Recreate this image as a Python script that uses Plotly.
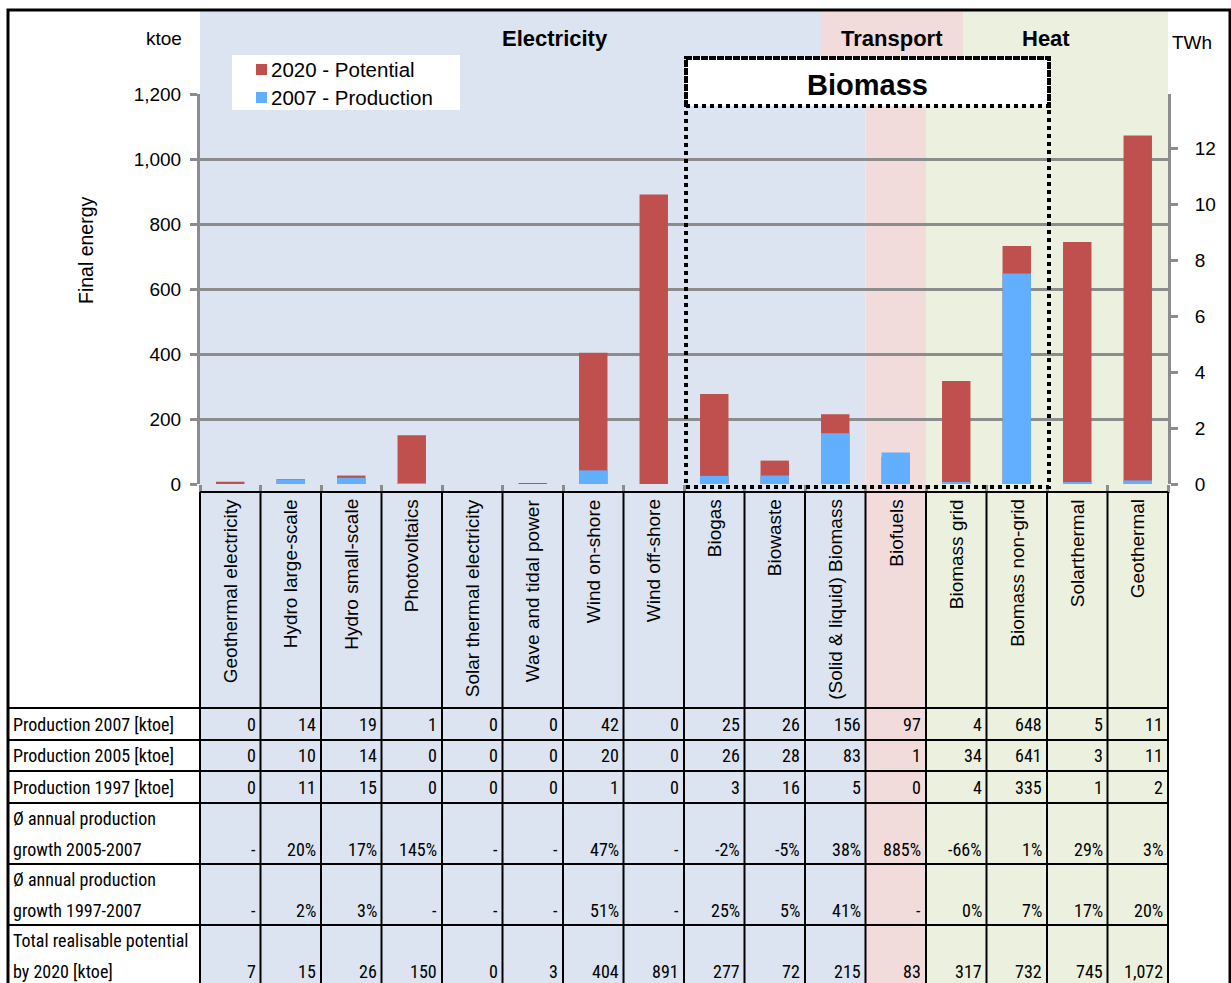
import plotly.graph_objects as go

# ---- data -------------------------------------------------------------
categories = [
    "Geothermal electricity", "Hydro large-scale", "Hydro small-scale",
    "Photovoltaics", "Solar thermal electricity", "Wave and tidal power",
    "Wind on-shore", "Wind off-shore", "Biogas", "Biowaste",
    "(Solid & liquid) Biomass", "Biofuels", "Biomass grid",
    "Biomass non-grid", "Solarthermal", "Geothermal",
]
sectors = ["Electricity"] * 11 + ["Transport"] + ["Heat"] * 4

prod_2007 = [0, 14, 19, 1, 0, 0, 42, 0, 25, 26, 156, 97, 4, 648, 5, 11]
prod_2005 = [0, 10, 14, 0, 0, 0, 20, 0, 26, 28, 83, 1, 34, 641, 3, 11]
prod_1997 = [0, 11, 15, 0, 0, 0, 1, 0, 3, 16, 5, 0, 4, 335, 1, 2]
growth_2005_2007 = ["-", "20%", "17%", "145%", "-", "-", "47%", "-",
                    "-2%", "-5%", "38%", "885%", "-66%", "1%", "29%", "3%"]
growth_1997_2007 = ["-", "2%", "3%", "-", "-", "-", "51%", "-",
                    "25%", "5%", "41%", "-", "0%", "7%", "17%", "20%"]
potential_2020 = [7, 15, 26, 150, 0, 3, 404, 891, 277, 72, 215, 83,
                  317, 732, 745, 1072]

row_labels = [
    ["Production 2007 [ktoe]"],
    ["Production 2005 [ktoe]"],
    ["Production 1997 [ktoe]"],
    ["\u00d8 annual production", "growth 2005-2007"],
    ["\u00d8 annual production", "growth 1997-2007"],
    ["Total realisable potential", "by 2020 [ktoe]"],
]
y_ticks_ktoe = [0, 200, 400, 600, 800, 1000, 1200]
y_ticks_twh = [0, 2, 4, 6, 8, 10, 12]
KTOE_TO_TWH = 0.01163

# ---- layout geometry (pixels) ----------------------------------------
W, H = 1231, 983
PLOT_L, PLOT_R = 200, 1168
Y_ZERO, Y_TOP = 484, 94
ncol = len(categories)
colw = (PLOT_R - PLOT_L) / ncol


def fx(p):
    return p / W


def fy(p):
    return 1 - p / H


def col_left(i):
    return PLOT_L + i * colw


fill = {"Electricity": "#DBE4F0", "Transport": "#F2DCDB", "Heat": "#EBF1DE"}
RED, BLUE, GRID = "#C0504D", "#62AFFF", "#8C8C8C"
ARIAL = "Liberation Sans, Arial, sans-serif"
NARROW = "Liberation Sans Narrow, Arial Narrow, Roboto Condensed, sans-serif"


def text(t, x, y, size, family=ARIAL, xanchor="center", yanchor="middle", angle=0):
    return dict(text=t, xref="paper", yref="paper", x=fx(x), y=fy(y),
                xanchor=xanchor, yanchor=yanchor, textangle=angle,
                showarrow=False, font=dict(family=family, size=size, color="black"))


fig = go.Figure()
fig.add_bar(x=list(range(ncol)), y=potential_2020, marker_color=RED,
            marker_line_width=0, width=0.47, name="2020 - Potential")
fig.add_bar(x=list(range(ncol)), y=prod_2007, marker_color=BLUE,
            marker_line_width=0, width=0.47, name="2007 - Production")
# carrier for the TWh axis
fig.add_scatter(x=[0], y=[0], yaxis="y2", mode="markers",
                marker=dict(size=1, color="rgba(0,0,0,0)"),
                showlegend=False, hoverinfo="skip")

shapes = []
ann = []

# sector header band at the very top
top_bands = [("Electricity", 200, 821, 555), ("Transport", 821, 963, 892),
             ("Heat", 963, PLOT_R, 1046)]
for name, a, b, cx in top_bands:
    shapes.append(dict(type="rect", xref="paper", yref="paper",
                       x0=fx(a), x1=fx(b), y0=fy(60), y1=fy(10),
                       fillcolor=fill[name], line_width=0, layer="below"))
    ann.append(text("<b>%s</b>" % name, cx, 38, 22))

# one continuous background block per sector, down through plot and table
spans = []
for i, s in enumerate(sectors):
    if spans and spans[-1][0] == s:
        spans[-1][2] = i + 1
    else:
        spans.append([s, i, i + 1])
for s, a, b in spans:
    shapes.append(dict(type="rect", xref="paper", yref="paper",
                       x0=fx(col_left(a)), x1=fx(col_left(b)),
                       y0=fy(H + 5), y1=fy(58),
                       fillcolor=fill[s], line_width=0, layer="below"))

# table grid
rows_px = [(708, 740), (740, 771), (771, 803), (803, 864), (864, 925), (925, 990)]
TAB_TOP, TAB_LEFT = 492, 8
shapes.append(dict(type="line", xref="paper", yref="paper",
                   x0=fx(PLOT_L), x1=fx(PLOT_R), y0=fy(TAB_TOP), y1=fy(TAB_TOP),
                   line=dict(color="black", width=2), layer="above"))
for top, _ in rows_px:
    shapes.append(dict(type="line", xref="paper", yref="paper",
                       x0=fx(TAB_LEFT), x1=fx(PLOT_R), y0=fy(top), y1=fy(top),
                       line=dict(color="black", width=2), layer="above"))
for i in range(ncol + 1):
    shapes.append(dict(type="line", xref="paper", yref="paper",
                       x0=fx(col_left(i)), x1=fx(col_left(i)),
                       y0=fy(TAB_TOP), y1=fy(H + 5),
                       line=dict(color="black", width=2), layer="above"))

# category names (rotated)
for i, c in enumerate(categories):
    ann.append(text(c, col_left(i) + colw / 2, 497, 19, yanchor="top", angle=-90))


def fmt(v):
    return v if isinstance(v, str) else "{:,}".format(v)


table_rows = [prod_2007, prod_2005, prod_1997,
              growth_2005_2007, growth_1997_2007, potential_2020]
for vals, labels, (top, bot) in zip(table_rows, row_labels, rows_px):
    if len(labels) == 1:
        line_y = [(top + bot) / 2]
    else:
        line_y = [top + 15, top + 46]
    for lab, yy in zip(labels, line_y):
        ann.append(text(lab, 11, yy, 18, family=NARROW, xanchor="left"))
    for i, v in enumerate(vals):
        ann.append(text(fmt(v), col_left(i + 1) - 3, line_y[-1], 18,
                        family=NARROW, xanchor="right"))

# Biomass frame
BX0, BX1, BY0, BY1, BTITLE = 686, 1049, 58, 487, 106
shapes.append(dict(type="rect", xref="paper", yref="paper",
                   x0=fx(BX0), x1=fx(BX1), y0=fy(BTITLE), y1=fy(BY0),
                   fillcolor="white", line=dict(color="black", width=4, dash="dot"),
                   layer="above"))
shapes.append(dict(type="rect", xref="paper", yref="paper",
                   x0=fx(BX0), x1=fx(BX1), y0=fy(BY1), y1=fy(BY0),
                   fillcolor="rgba(0,0,0,0)",
                   line=dict(color="black", width=4, dash="dot"), layer="above"))
ann.append(text("<b>Biomass</b>", (BX0 + BX1) / 2, 85, 29))

# legend box
shapes.append(dict(type="rect", xref="paper", yref="paper",
                   x0=fx(232), x1=fx(460), y0=fy(110), y1=fy(55),
                   fillcolor="white", line_width=0, layer="above"))
for (label, color, yy) in [("2020 - Potential", RED, 69), ("2007 - Production", BLUE, 97)]:
    shapes.append(dict(type="rect", xref="paper", yref="paper",
                       x0=fx(256), x1=fx(267), y0=fy(yy + 6), y1=fy(yy - 5),
                       fillcolor=color, line_width=0, layer="above"))
    ann.append(text(label, 269, yy, 20.5, xanchor="left"))

# axis unit labels
ann.append(text("ktoe", 164, 38, 19))
ann.append(text("TWh", 1192, 43, 19))
ann.append(text("Final energy", 86, 250, 19.5, angle=-90))

# outer frame
shapes.append(dict(type="rect", xref="paper", yref="paper",
                   x0=fx(8), x1=fx(1230), y0=fy(H + 10), y1=fy(10),
                   fillcolor="rgba(0,0,0,0)", line=dict(color="black", width=3),
                   layer="above"))

fig.update_layout(
    width=W, height=H,
    margin=dict(l=0, r=0, t=0, b=0, autoexpand=False),
    paper_bgcolor="white", plot_bgcolor="rgba(0,0,0,0)",
    barmode="overlay", showlegend=False,
    shapes=shapes, annotations=ann,
    xaxis=dict(domain=[fx(PLOT_L), fx(PLOT_R)], range=[-0.5, ncol - 0.5],
               tickvals=[i - 0.5 for i in range(ncol + 1)], showticklabels=False,
               ticks="outside", ticklen=8, tickwidth=3, tickcolor=GRID,
               showgrid=False, zeroline=False, showline=False, fixedrange=True),
    yaxis=dict(domain=[fy(Y_ZERO), fy(Y_TOP)], range=[0, 1200],
               tickvals=y_ticks_ktoe, tickformat=",d",
               ticks="outside", ticklen=7, tickwidth=3, tickcolor=GRID,
               showgrid=True, gridcolor=GRID, gridwidth=3,
               showline=True, linecolor=GRID, linewidth=3, zeroline=False,
               tickfont=dict(family=ARIAL, size=19, color="black"),
               ticklabelstandoff=5),
    yaxis2=dict(overlaying="y", side="right", range=[0, 1200 * KTOE_TO_TWH],
                tickvals=y_ticks_twh, ticks="outside", ticklen=7, tickwidth=3,
                tickcolor=GRID, showgrid=False, zeroline=False,
                showline=True, linecolor=GRID, linewidth=3,
                tickfont=dict(family=ARIAL, size=19, color="black"),
                ticklabelstandoff=13),
)

fig.write_html("out.html")
